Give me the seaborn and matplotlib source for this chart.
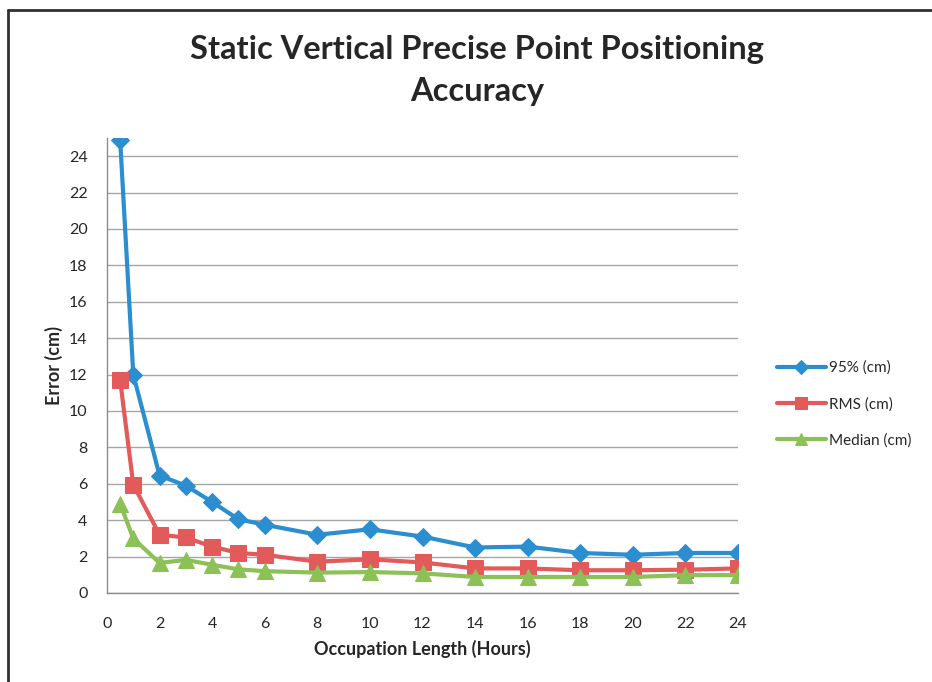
import matplotlib
matplotlib.use("Agg")
import matplotlib.pyplot as plt
import seaborn as sns
import pandas as pd
from matplotlib.lines import Line2D

hours = [0.5, 1, 2, 3, 4, 5, 6, 8, 10, 12, 14, 16, 18, 20, 22, 24]
p95 = [24.9, 12.0, 6.45, 5.9, 5.0, 4.05, 3.75, 3.2, 3.5, 3.1, 2.5, 2.55, 2.2, 2.1, 2.2, 2.2]
rms = [11.7, 5.95, 3.2, 3.05, 2.55, 2.2, 2.1, 1.72, 1.85, 1.68, 1.35, 1.35, 1.25, 1.25, 1.28, 1.35]
median = [4.9, 3.0, 1.65, 1.82, 1.55, 1.3, 1.2, 1.12, 1.15, 1.08, 0.88, 0.88, 0.88, 0.88, 0.98, 0.98]
series_names = ["95% (cm)", "RMS (cm)", "Median (cm)"]
xticks = list(range(0, 25, 2))
yticks = list(range(0, 25, 2))

sns.set_style("white")
plt.rcParams['font.family'] = ['Lato', 'DejaVu Sans']

fig = plt.figure(figsize=(9.32, 6.82), dpi=100)
ax = fig.add_axes([107/932, 1-593/682, (738-107)/932, (593-138)/682])

colors = ['#2b8ed0', '#e35a5b', '#8cc157']
markers = ['D', 's', '^']
msizes = [9.5, 11, 11]
for vals, name, c, m, ms in zip([p95, rms, median], series_names, colors, markers, msizes):
    df = pd.DataFrame({"h": hours, "v": vals})
    sns.lineplot(data=df, x="h", y="v", ax=ax, color=c, marker=m, markersize=ms,
                 markeredgecolor=c, linewidth=3, label=name, zorder=3)

ax.set_xlim(0, 24)
ax.set_ylim(0, 25)
ax.set_xticks(xticks)
ax.set_yticks(yticks)
ax.yaxis.grid(True, color='#a6a6a6', linewidth=1)
ax.xaxis.grid(False)
for s in ['top', 'right']:
    ax.spines[s].set_visible(False)
for s in ['left', 'bottom']:
    ax.spines[s].set_color('#8c8c8c')
    ax.spines[s].set_linewidth(1)
ax.tick_params(axis='both', direction='out', length=6, color='#8c8c8c', width=1,
               labelsize=11.5, labelcolor='#262626')
ax.tick_params(axis='y', pad=8)
ax.tick_params(axis='x', pad=11)
ax.set_xlabel("Occupation Length (Hours)", fontsize=13, fontweight='bold', labelpad=7)
ax.set_ylabel("Error (cm)", fontsize=13, fontweight='bold', labelpad=4)

fig.suptitle("Static Vertical Precise Point Positioning\nAccuracy", x=0.512, y=1-35/682,
             fontsize=23.5, fontweight='bold', linespacing=1.55, va='top')

leg = ax.legend(loc='center left', bbox_to_anchor=(1.04, 0.415), frameon=False,
                fontsize=11, handlelength=3.2, labelspacing=1.45, handletextpad=0.2,
                markerscale=0.8)

fig.add_artist(Line2D([8/932, 8/932], [0, 1-10/682], transform=fig.transFigure,
                      color='#303030', linewidth=2))
fig.add_artist(Line2D([8/932, 1], [1-10/682, 1-10/682], transform=fig.transFigure,
                      color='#303030', linewidth=2))

fig.savefig("out.png", dpi=100)
